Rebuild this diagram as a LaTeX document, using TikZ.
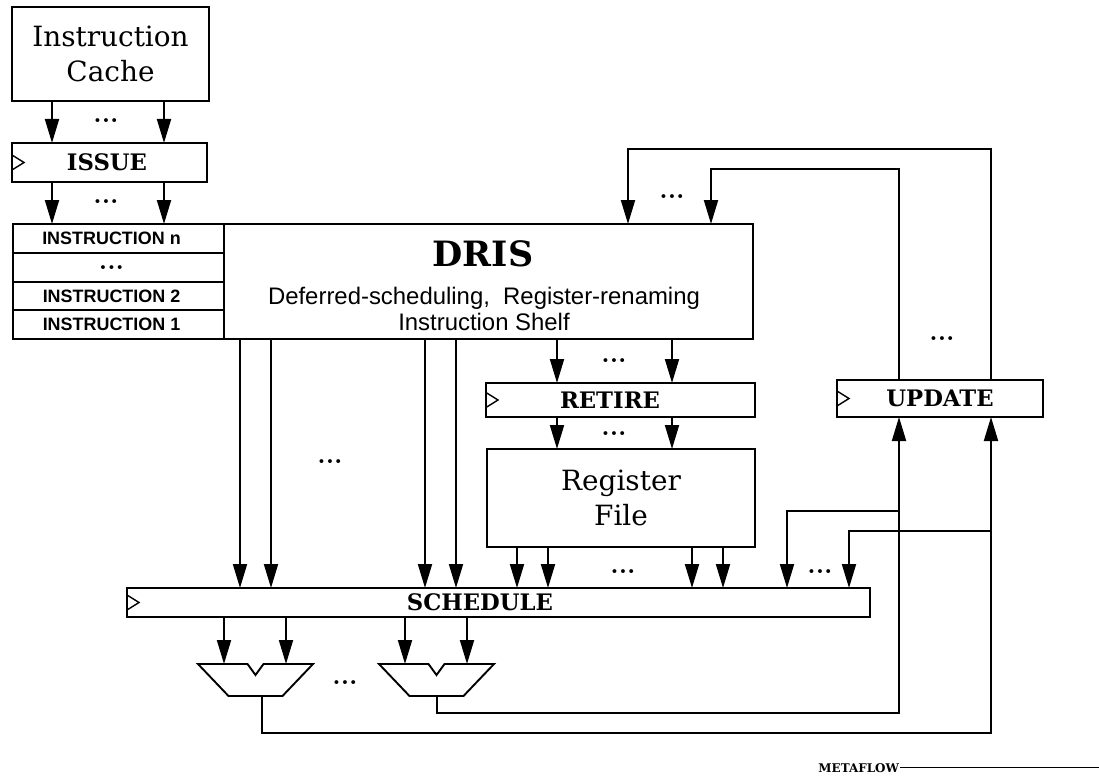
\documentclass[tikz,border=0pt]{standalone}
\usepackage{fontspec}
\newfontfamily\hsans{Liberation Sans}
\newfontfamily\dserif{DejaVu Serif}
\usetikzlibrary{arrows.meta,calc}
\begin{document}
\begin{tikzpicture}[x=1bp,y=-1bp,
  line width=1.9bp,
  box/.style={draw,rectangle,inner sep=0pt,outer sep=0pt},
  arr/.style={-{Triangle[length=24bp,width=14bp]}},
  dots/.style={inner sep=0pt,font=\fontsize{27}{27}\selectfont\bfseries},
  reglbl/.style={font=\dserif\fontsize{22.8}{22.8}\selectfont\bfseries},
  big/.style={font=\dserif\fontsize{28}{35}\selectfont, align=center},
  ins/.style={box,minimum width=211bp,font=\hsans\fontsize{18}{18}\selectfont\bfseries},
  clock/.style={line width=1.4bp},
]
\fill[white] (0,0) rectangle (1099,778);
\useasboundingbox (0,0) rectangle (1099,778);

% column coordinates
\coordinate (xa) at (52,0);   \coordinate (xb) at (164,0);
\coordinate (da) at (240,0);  \coordinate (db) at (271,0);
\coordinate (dc) at (425,0);  \coordinate (dd) at (456,0);
\coordinate (ra) at (557,0);  \coordinate (rb) at (672,0);
\coordinate (ga) at (517,0);  \coordinate (gb) at (548,0);
\coordinate (gc) at (692,0);  \coordinate (gd) at (723,0);
\coordinate (fa) at (787,0);  \coordinate (fb) at (849,0);
\coordinate (sa) at (224,0);  \coordinate (sb) at (286,0);
\coordinate (sc) at (405,0);  \coordinate (sd) at (467,0);
\coordinate (ua) at (899,0);  \coordinate (ub) at (991,0);

% boxes
\node[box,big,minimum width=197bp,minimum height=94bp] (cache) at (110.5,54) {Instruction\\Cache};
\node[box,reglbl,minimum width=195bp,minimum height=39bp] (issue) at (109.5,162.5) {ISSUE\hspace*{5bp}};

\node[ins,minimum height=29bp] (instn) at (118.5,238.5) {INSTRUCTION n\hspace*{14bp}};
\node[ins,minimum height=29bp,font=\fontsize{27}{27}\selectfont\bfseries] (instd) at (118.5,267.5) {...\hspace*{14bp}};
\node[ins,minimum height=28bp] (inst2) at (118.5,296) {INSTRUCTION 2\hspace*{14bp}};
\node[ins,minimum height=29bp] (inst1) at (118.5,324.5) {INSTRUCTION 1\hspace*{14bp}};

\node[box,minimum width=529bp,minimum height=115bp] (dris) at (488.5,281.5) {};
\node[font=\dserif\fontsize{35}{35}\selectfont\bfseries] (dristitle) at (483,254) {DRIS};
\node[font=\hsans\fontsize{24}{27}\selectfont,align=center] (drissub) at (484,309)
  {Deferred-scheduling,\ \ Register-renaming\\Instruction Shelf};

\node[box,reglbl,minimum width=269bp,minimum height=34bp] (retire) at (620.5,400) {RETIRE\hspace*{21bp}};
\node[box,big,minimum width=268bp,minimum height=98bp] (regfile) at (621,498) {Register\\File};
\node[box,reglbl,minimum width=206bp,minimum height=37bp] (update) at (940,398.5) {UPDATE};
\node[box,reglbl,minimum width=743bp,minimum height=29bp] (sched) at (498.5,602.5) {SCHEDULE\hspace*{37bp}};

% clock marks
\foreach \n in {issue,retire,update,sched}
  \draw[clock] ($(\n.west)+(0,-7.5)$) -- ($(\n.west)+(12,0)$) -- ($(\n.west)+(0,7.5)$);

% ALUs
\foreach \cx in {255.5,436.5}{
  \draw[line join=miter] ({\cx-57.5},664) -- ({\cx-8},664) -- (\cx,675) -- ({\cx+8},664)
     -- ({\cx+57.5},664) -- ({\cx+27},696) -- ({\cx-27},696) -- cycle;
}
\coordinate (alua) at (255.5,664);
\coordinate (alub) at (436.5,664);
\coordinate (aluaout) at (262,696);
\coordinate (alubout) at (437,696);

% vertical arrows
\foreach \c in {xa,xb} {
  \draw[arr] (cache.south -| \c) -- (issue.north -| \c);
  \draw[arr] (issue.south -| \c) -- (instn.north -| \c);
}
\foreach \c in {da,db,dc,dd}
  \draw[arr] (dris.south -| \c) -- (sched.north -| \c);
\foreach \c in {ra,rb} {
  \draw[arr] (dris.south -| \c) -- (retire.north -| \c);
  \draw[arr] (retire.south -| \c) -- (regfile.north -| \c);
}
\foreach \c in {ga,gb,gc,gd}
  \draw[arr] (regfile.south -| \c) -- (sched.north -| \c);
\draw[arr] (sched.south -| sa) -- (alua -| sa);
\draw[arr] (sched.south -| sb) -- (alua -| sb);
\draw[arr] (sched.south -| sc) -- (alub -| sc);
\draw[arr] (sched.south -| sd) -- (alub -| sd);

% result buses
\coordinate (bla) at (899,713);
\coordinate (blb) at (991,733);
\coordinate (ja) at (899,511);
\coordinate (jb) at (991,531);
\draw[arr] (alubout) |- (bla) -- (update.south -| ua);
\draw[arr] (aluaout) |- (blb) -- (update.south -| ub);
\draw[arr] (ja) -| (sched.north -| fa);
\draw[arr] (jb) -| (sched.north -| fb);

% update feedback to DRIS
\coordinate (ka) at (711,169);
\coordinate (kb) at (628,149);
\draw[arr] (update.north -| ua) |- (ka) -- (dris.north -| ka);
\draw[arr] (update.north -| ub) |- (kb) -- (dris.north -| kb);

% ellipses
\node[dots] (e1) at (106,121) {...};
\node[dots] (e2) at (106,202) {...};
\node[dots] (e3) at (672,197) {...};
\node[dots] (e4) at (330,462) {...};
\node[dots] (e5) at (614,361) {...};
\node[dots] (e6) at (614,434) {...};
\node[dots] (e7) at (942,339) {...};
\node[dots] (e8) at (623,572) {...};
\node[dots] (e9) at (820,572) {...};
\node[dots] (e10) at (345,683) {...};

% signature
\node[anchor=base east,inner sep=0pt,font=\dserif\fontsize{12}{12}\selectfont\bfseries] (mf) at (900,772) {METAFLOW};
\coordinate (mfend) at (1099,768);
\draw[line width=1bp] (mf.east) -- (mf.east -| mfend);
\end{tikzpicture}
\end{document}
